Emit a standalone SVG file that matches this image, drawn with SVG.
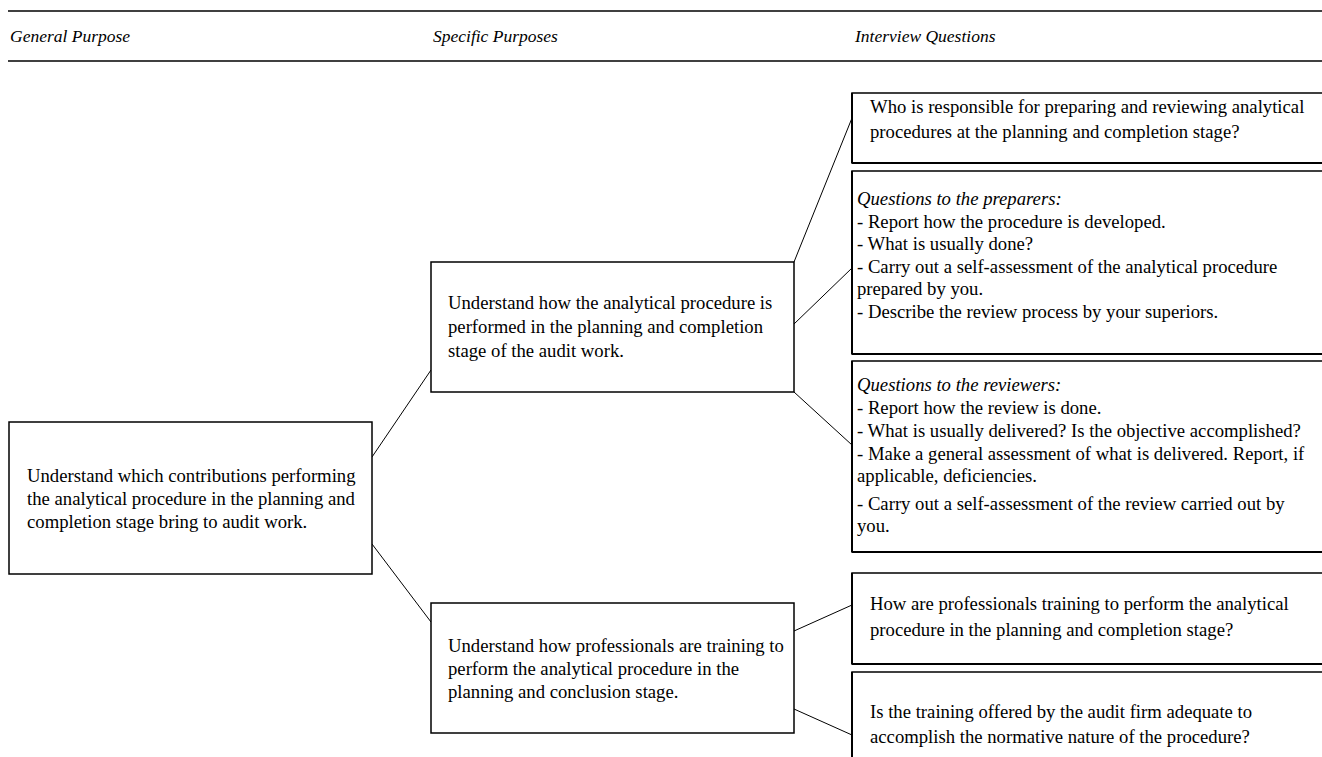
<svg xmlns="http://www.w3.org/2000/svg" width="1322" height="757" viewBox="0 0 1322 757">
  <style>
    .bg { fill: #ffffff; }
    .rule { stroke: #000; stroke-width: 1.6; }
    .box { fill: #fff; stroke: #000; stroke-width: 1.5; }
    .edge { stroke: #000; stroke-width: 2; }
    .link { stroke: #000; stroke-width: 1; fill: none; }
    .hdr { font-family: "Liberation Serif", "Times New Roman", serif; font-style: italic; font-size: 17.5px; fill: #000; }
    .txt { font-family: "Liberation Serif", "Times New Roman", serif; font-size: 18.7px; fill: #000; }
    .it { font-style: italic; }
  </style>
  <rect class="bg" x="0" y="0" width="1322" height="757"/>

  <!-- table header -->
  <g id="header">
    <line class="rule" x1="8" y1="11" x2="1322" y2="11"/>
    <text class="hdr" x="10" y="42">General Purpose</text>
    <text class="hdr" x="433" y="42">Specific Purposes</text>
    <text class="hdr" x="855" y="42">Interview Questions</text>
    <line class="rule" x1="8" y1="61" x2="1322" y2="61"/>
  </g>

  <!-- connectors -->
  <g id="connectors">
    <line class="link" x1="372" y1="457" x2="431" y2="370"/>
    <line class="link" x1="372" y1="544" x2="431" y2="622"/>
    <line class="link" x1="794" y1="262" x2="852" y2="118"/>
    <line class="link" x1="794" y1="324" x2="852" y2="268"/>
    <line class="link" x1="794" y1="392" x2="852" y2="445"/>
    <line class="link" x1="794" y1="631" x2="852" y2="605"/>
    <line class="link" x1="794" y1="709" x2="852" y2="735"/>
  </g>

  <!-- general purpose -->
  <g id="general">
    <rect class="box" x="9" y="422" width="363" height="152"/>
    <text class="txt"><tspan x="27" y="482">Understand which contributions performing</tspan><tspan x="27" y="505">the analytical procedure in the planning and</tspan><tspan x="27" y="528">completion stage bring to audit work.</tspan></text>
  </g>

  <!-- specific purposes -->
  <g id="specific-1">
    <rect class="box" x="431" y="262" width="363" height="130"/>
    <text class="txt"><tspan x="448" y="309">Understand how the analytical procedure is</tspan><tspan x="448" y="333">performed in the planning and completion</tspan><tspan x="448" y="357">stage of the audit work.</tspan></text>
  </g>
  <g id="specific-2">
    <rect class="box" x="431" y="603" width="363" height="130"/>
    <text class="txt"><tspan x="448" y="652">Understand how professionals are training to</tspan><tspan x="448" y="675">perform the analytical procedure in the</tspan><tspan x="448" y="698">planning and conclusion stage.</tspan></text>
  </g>

  <!-- interview questions (open on the right, heavier left and bottom edges) -->
  <g id="question-1">
    <rect class="box" x="852" y="93" width="490" height="70"/>
    <line class="edge" x1="852" y1="93" x2="852" y2="163"/>
    <line class="edge" x1="852" y1="163" x2="1322" y2="163"/>
    <text class="txt"><tspan x="870" y="113">Who is responsible for preparing and reviewing analytical</tspan><tspan x="870" y="138">procedures at the planning and completion stage?</tspan></text>
  </g>
  <g id="question-2">
    <rect class="box" x="852" y="171" width="490" height="183"/>
    <line class="edge" x1="852" y1="171" x2="852" y2="354"/>
    <line class="edge" x1="852" y1="354" x2="1322" y2="354"/>
    <text class="txt"><tspan class="it" x="857" y="205">Questions to the preparers:</tspan><tspan x="857" y="227.5">- Report how the procedure is developed.</tspan><tspan x="857" y="250">- What is usually done?</tspan><tspan x="857" y="272.5">- Carry out a self-assessment of the analytical procedure</tspan><tspan x="857" y="295">prepared by you.</tspan><tspan x="857" y="317.5">- Describe the review process by your superiors.</tspan></text>
  </g>
  <g id="question-3">
    <rect class="box" x="852" y="361" width="490" height="191"/>
    <line class="edge" x1="852" y1="361" x2="852" y2="552"/>
    <line class="edge" x1="852" y1="552" x2="1322" y2="552"/>
    <text class="txt"><tspan class="it" x="857" y="391">Questions to the reviewers:</tspan><tspan x="857" y="414">- Report how the review is done.</tspan><tspan x="857" y="437">- What is usually delivered? Is the objective accomplished?</tspan><tspan x="857" y="460">- Make a general assessment of what is delivered. Report, if</tspan><tspan x="857" y="482">applicable, deficiencies.</tspan><tspan x="857" y="510">- Carry out a self-assessment of the review carried out by</tspan><tspan x="857" y="532">you.</tspan></text>
  </g>
  <g id="question-4">
    <rect class="box" x="852" y="573" width="490" height="91"/>
    <line class="edge" x1="852" y1="573" x2="852" y2="664"/>
    <line class="edge" x1="852" y1="664" x2="1322" y2="664"/>
    <text class="txt"><tspan x="870" y="610">How are professionals training to perform the analytical</tspan><tspan x="870" y="636">procedure in the planning and completion stage?</tspan></text>
  </g>
  <g id="question-5">
    <rect class="box" x="852" y="672" width="490" height="120"/>
    <line class="edge" x1="852" y1="672" x2="852" y2="757"/>
    <text class="txt"><tspan x="870" y="718">Is the training offered by the audit firm adequate to</tspan><tspan x="870" y="743">accomplish the normative nature of the procedure?</tspan></text>
  </g>
</svg>
